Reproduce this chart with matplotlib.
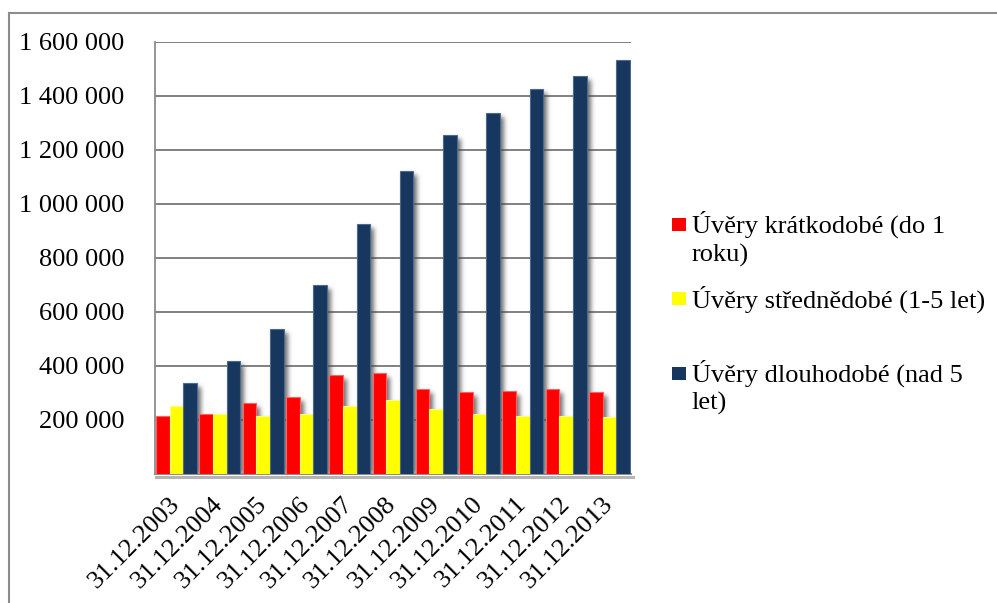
import numpy as np
import matplotlib
matplotlib.use("Agg")
import matplotlib.pyplot as plt
from matplotlib.patches import Rectangle
from matplotlib.lines import Line2D
from matplotlib.transforms import ScaledTranslation

plt.rcParams['font.family'] = ['Liberation Serif', 'DejaVu Serif']

# Loan volumes by maturity at year end
dates = ['31.12.2003', '31.12.2004', '31.12.2005', '31.12.2006', '31.12.2007',
         '31.12.2008', '31.12.2009', '31.12.2010', '31.12.2011', '31.12.2012',
         '31.12.2013']
short_term = [213700, 222000, 262000, 285000, 365500, 374000, 313600, 302500,
              307400, 313600, 302500]
medium_term = [250700, 222000, 213700, 222000, 250700, 274000, 240700, 221000,
               214800, 213700, 210000]
long_term = [337000, 418500, 536000, 700000, 925000, 1121000, 1254000, 1338000,
             1426000, 1473000, 1532000]

series_names = ['Úvěry krátkodobé (do 1\nroku)',
                'Úvěry střednědobé (1-5 let)',
                'Úvěry dlouhodobé (nad 5\nlet)']
series_colors = ['#FF0000', '#FFFF00', '#17375E']
edge_colors = ['#FF6060', '#FFFF80', '#4A6A90']
y_ticks = [0, 200000, 400000, 600000, 800000, 1000000, 1200000, 1400000, 1600000]

W, H, DPI = 997, 603, 100
fig = plt.figure(figsize=(W / DPI, H / DPI), dpi=DPI)

ax_l, ax_r, ax_t, ax_b = 155, 631, 42, 474
ax = fig.add_axes([ax_l / W, 1 - ax_b / H, (ax_r - ax_l) / W, (ax_b - ax_t) / H])

n = len(dates)
x = np.arange(n)
bw = 0.315
offsets = [-bw, 0.0, bw]
series = [short_term, medium_term, long_term]
y_max = 1600000
ax.set_xlim(-0.5, n - 0.5)
ax.set_ylim(0, y_max)

# soft drop shadow behind the bars, rendered at pixel resolution
pw, ph = ax_r - ax_l, ax_b - ax_t
mask = np.zeros((ph, pw))
sx, sy = 4, 4
for vals, off in zip(series, offsets):
    for xi, v in zip(x, vals):
        c0 = int(round((xi + off - bw / 2 + 0.5) / n * pw)) + sx
        c1 = int(round((xi + off + bw / 2 + 0.5) / n * pw)) + sx
        r0 = int(round((y_max - v) / y_max * ph)) + sy
        mask[max(r0, 0):ph, max(c0, 0):min(c1, pw)] = 1.0
sig = 2.4
k = np.arange(-8, 9)
kern = np.exp(-k ** 2 / (2 * sig ** 2))
kern /= kern.sum()
blur = np.apply_along_axis(lambda r: np.convolve(r, kern, mode='same'), 1, mask)
blur = np.apply_along_axis(lambda c: np.convolve(c, kern, mode='same'), 0, blur)
shadow = np.zeros((ph, pw, 4))
shadow[..., :3] = 0.3
shadow[..., 3] = blur * 0.8
ax.imshow(shadow, extent=(-0.5, n - 0.5, 0, y_max), aspect='auto',
          interpolation='bilinear', zorder=1.5)

for vals, off, col, ec, name in zip(series, offsets, series_colors, edge_colors, series_names):
    ax.bar(x + off, vals, width=bw, color=col, edgecolor=ec, linewidth=0.8,
           zorder=3, label=name)

ax.set_yticks(y_ticks)
ax.set_yticklabels(['' if v == 0 else f'{v:,}'.replace(',', ' ') for v in y_ticks])
ax.set_xticks(x)
ax.set_xticklabels(dates, rotation=45, ha='right', va='center',
                   rotation_mode='anchor')
shift = ScaledTranslation(6 / DPI, 0, fig.dpi_scale_trans)
for lbl in ax.get_xticklabels():
    lbl.set_transform(lbl.get_transform() + shift)
ax.tick_params(axis='y', length=0, pad=22, labelsize=19, colors='black')
ax.tick_params(axis='x', length=0, pad=19, labelsize=19, colors='black')
ax.grid(axis='y', color='#808080', linewidth=1.4, zorder=1)
ax.set_axisbelow(True)

for s in ['top', 'right']:
    ax.spines[s].set_visible(False)
ax.spines['left'].set_color('#8C8C8C')
ax.spines['left'].set_linewidth(1.3)
ax.spines['bottom'].set_color('#8C8C8C')
ax.spines['bottom'].set_linewidth(1.5)

# shadow under the plot floor
fig.add_artist(Line2D([(ax_l + 1) / W, (ax_r + 2) / W], [1 - (ax_b + 2.5) / H] * 2,
                      transform=fig.transFigure, color='#B4B4B4', linewidth=2.2,
                      zorder=0.5))

# legend drawn at the right of the plot
legend_rows = [
    (224.5, [232.7, 261.7]),
    (298.5, [307.3]),
    (373.0, [381.7, 410.0]),
]
for (sq_y, baselines), name, col in zip(legend_rows, series_names, series_colors):
    fig.patches.append(Rectangle((672 / W, 1 - (sq_y + 6.5) / H), 14 / W, 13 / H,
                                 transform=fig.transFigure, facecolor=col,
                                 edgecolor='none'))
    for line, by in zip(name.split('\n'), baselines):
        fig.text(691.5 / W, 1 - by / H, line, fontsize=19, va='baseline',
                 ha='left', color='black')

# outer chart frame
fig.add_artist(Line2D([8.5 / W, 1.0], [1 - 12.5 / H, 1 - 12.5 / H],
                      transform=fig.transFigure, color='#8C8C8C', linewidth=1.5))
fig.add_artist(Line2D([8.5 / W, 8.5 / W], [0.0, 1 - 12.5 / H],
                      transform=fig.transFigure, color='#8C8C8C', linewidth=1.5))

fig.savefig('out.png', dpi=DPI, facecolor='white')
